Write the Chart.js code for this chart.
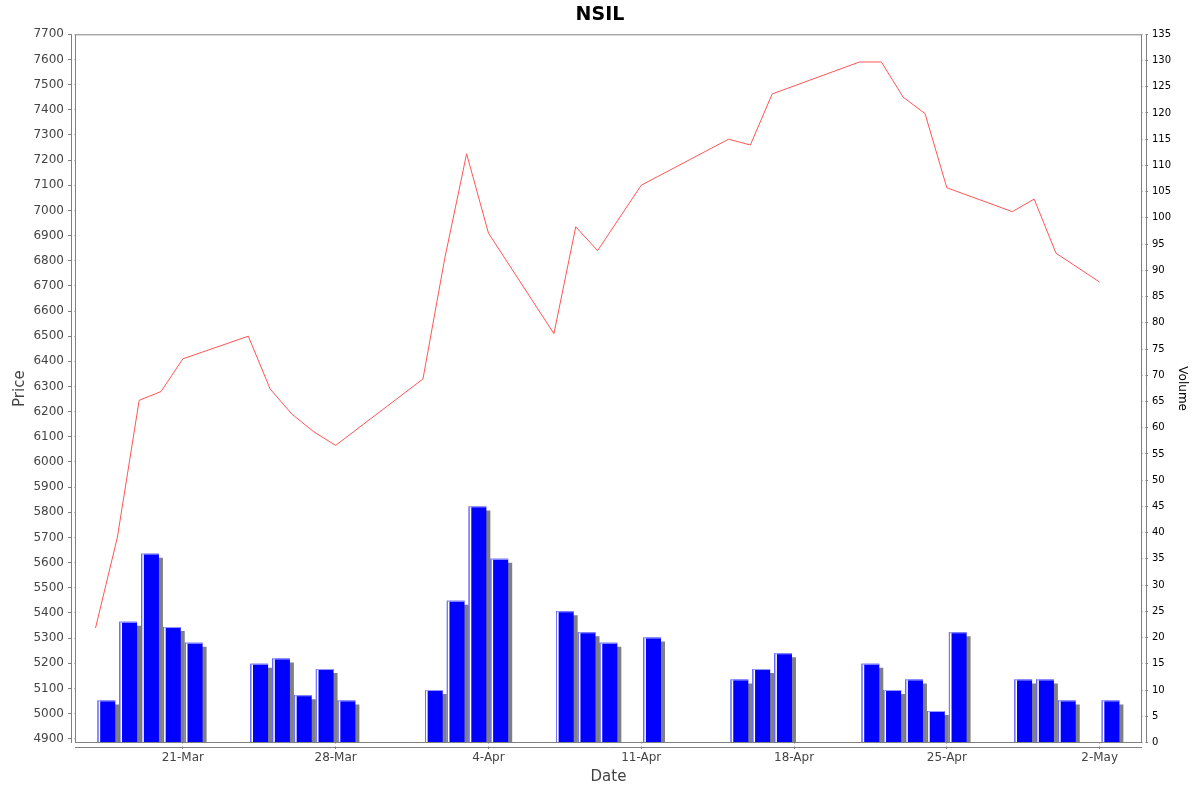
<!DOCTYPE html>
<html>
<head>
<meta charset="utf-8">
<title>NSIL</title>
<script src="https://cdn.jsdelivr.net/npm/chart.js@4/dist/chart.umd.min.js"></script>
<style>
  html, body { margin: 0; padding: 0; background: #fff; }
  #wrap { width: 1200px; height: 792px; }
</style>
</head>
<body>
<div id="wrap"><canvas id="priceChart"></canvas></div>
<script>
// trading days, close price and volume
const dates = ['17-Mar', '18-Mar', '19-Mar', '20-Mar', '21-Mar', '24-Mar', '25-Mar', '26-Mar', '27-Mar', '28-Mar',
  '1-Apr', '2-Apr', '3-Apr', '4-Apr', '7-Apr', '8-Apr', '9-Apr', '11-Apr', '15-Apr', '16-Apr',
  '17-Apr', '21-Apr', '22-Apr', '23-Apr', '24-Apr', '25-Apr', '28-Apr', '29-Apr', '30-Apr', '2-May'];
const price = [5340, 5700, 6245, 6280, 6410, 6500, 6290, 6190, 6120, 6066,
  6330, 6810, 7225, 6910, 6510, 6935, 6840, 7100, 7283, 7260,
  7463, 7590, 7590, 7450, 7385, 7090, 6995, 7045, 6830, 6715];
const volume = [8, 23, 36, 22, 19, 15, 16, 9, 14, 8,
  10, 27, 45, 35, 25, 21, 19, 20, 12, 14,
  17, 15, 10, 12, 6, 21, 12, 12, 8, 8];
const tickLabels = ['21-Mar', '28-Mar', '4-Apr', '11-Apr', '18-Apr', '25-Apr', '2-May'];

const MONTHS = { Mar: 2, Apr: 3, May: 4 };
const ORIGIN = Date.UTC(2014, 2, 21);
function dayNum(label) {
  const [d, m] = label.split('-');
  return (Date.UTC(2014, MONTHS[m], +d) - ORIGIN) / 86400000;
}
const tickDays = tickLabels.map(dayNum);

const AXIS_GREY = '#808080';
const FONT = "'DejaVu Sans', sans-serif";

// JFreeChart-ish look: gray drop shadow + light left edge on the bars, offset axis lines
const barLook = {
  id: 'barLook',
  beforeDatasetDraw(chart, args) {
    if (args.meta.type !== 'bar') return;
    const ctx = chart.ctx;
    ctx.save();
    ctx.shadowColor = '#808080';
    ctx.shadowOffsetX = 4;
    ctx.shadowOffsetY = 4;
    ctx.shadowBlur = 0;
  },
  afterDatasetDraw(chart, args) {
    if (args.meta.type !== 'bar') return;
    const ctx = chart.ctx;
    ctx.restore();
    ctx.save();
    args.meta.data.forEach(el => {
      const { x, y, base, width } = el.getProps(['x', 'y', 'base', 'width'], true);
      const left = x - width / 2;
      ctx.fillStyle = '#7474ff';
      ctx.fillRect(left, y, 1, base - y);
      ctx.fillStyle = '#ffffff';
      ctx.fillRect(left + 1, y, 1.6, base - y);
      ctx.fillStyle = '#9a9aff';
      ctx.fillRect(left + 1, y, width - 1, 1);
    });
    ctx.restore();
  },
  afterDraw(chart) {
    const { ctx, chartArea: a } = chart;
    ctx.save();
    // gap between plot outline and axis lines
    ctx.fillStyle = '#fff';
    ctx.fillRect(a.left - 3.5, a.top - 1, 3, a.bottom - a.top + 6);
    ctx.fillRect(a.right + 0.5, a.top - 1, 3, a.bottom - a.top + 6);
    ctx.fillRect(a.left - 1, a.bottom + 0.5, a.right - a.left + 2, 3);
    ctx.strokeStyle = AXIS_GREY;
    ctx.lineWidth = 1;
    ctx.strokeRect(a.left + 0.5, a.top + 0.5, a.right - a.left - 1, a.bottom - a.top - 1);
    ctx.beginPath();
    ctx.moveTo(a.left - 3.5, a.top); ctx.lineTo(a.left - 3.5, a.bottom);
    ctx.moveTo(a.right + 4.5, a.top); ctx.lineTo(a.right + 4.5, a.bottom);
    ctx.moveTo(a.left, a.bottom + 4.5); ctx.lineTo(a.right, a.bottom + 4.5);
    ctx.stroke();
    ctx.restore();
  }
};

new Chart(document.getElementById('priceChart'), {
  type: 'bar',
  data: {
    datasets: [{
      type: 'line',
      label: 'Price',
      data: dates.map((d, i) => ({ x: dayNum(d), y: price[i] })),
      yAxisID: 'yPrice',
      borderColor: '#ff5555',
      borderWidth: 1,
      pointRadius: 0,
      tension: 0,
      order: 0
    }, {
      type: 'bar',
      label: 'Volume',
      data: dates.map((d, i) => ({ x: dayNum(d) + 0.5, y: volume[i] })),
      yAxisID: 'yVol',
      backgroundColor: '#0000ff',
      borderWidth: 0,
      categoryPercentage: 1,
      barPercentage: 0.81,
      clip: 0,
      order: 1
    }]
  },
  options: {
    responsive: true,
    maintainAspectRatio: false,
    animation: false,
    devicePixelRatio: 1,
    layout: { padding: 0 },
    plugins: {
      legend: { display: false },
      tooltip: { enabled: false },
      title: {
        display: true,
        text: 'NSIL',
        color: '#000',
        font: { family: FONT, size: 19, weight: 'bold' },
        padding: { top: 3.5, bottom: 8 }
      }
    },
    scales: {
      x: {
        type: 'linear',
        position: 'bottom',
        min: -4.94,
        max: 43.94,
        offset: false,
        afterFit: s => { s.height = 49; },
        afterBuildTicks: s => { s.ticks = tickDays.map(v => ({ value: v })); },
        border: { display: false },
        grid: { drawOnChartArea: false, offset: false, tickLength: 6, tickColor: AXIS_GREY },
        ticks: {
          autoSkip: false,
          maxRotation: 0,
          padding: 2,
          color: '#444',
          font: { family: FONT, size: 12 },
          callback: v => tickLabels[tickDays.indexOf(v)]
        },
        title: {
          display: true,
          text: 'Date',
          color: '#444',
          font: { family: FONT, size: 15 },
          padding: { top: 0, bottom: 6 }
        }
      },
      yPrice: {
        position: 'left',
        min: 4883,
        max: 7700,
        afterFit: s => { s.width = 75; },
        border: { display: false },
        grid: { drawOnChartArea: false, tickLength: 7, tickColor: AXIS_GREY },
        ticks: {
          stepSize: 100,
          includeBounds: false,
          autoSkip: false,
          padding: 4,
          color: '#444',
          font: { family: FONT, size: 12 },
          callback: v => String(v)
        },
        title: {
          display: true,
          text: 'Price',
          color: '#444',
          font: { family: FONT, size: 15 },
          padding: { top: 11, bottom: 0 }
        }
      },
      yVol: {
        position: 'right',
        min: -0.1,
        max: 135,
        afterFit: s => { s.width = 58; },
        border: { display: false },
        grid: { drawOnChartArea: false, tickLength: 6, tickColor: AXIS_GREY },
        ticks: {
          stepSize: 5,
          includeBounds: false,
          autoSkip: false,
          padding: 4,
          color: '#000',
          font: { family: FONT, size: 10 },
          callback: v => String(v)
        },
        title: {
          display: true,
          text: 'Volume',
          color: '#000',
          font: { family: FONT, size: 12 },
          padding: { top: 11, bottom: 0 }
        }
      }
    }
  },
  plugins: [barLook]
});
</script>
</body>
</html>
